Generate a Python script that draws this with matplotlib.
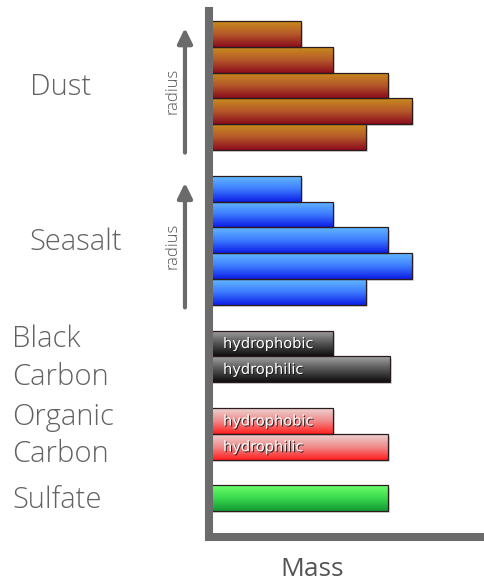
import numpy as np
import matplotlib.pyplot as plt
import matplotlib.patheffects as pe
from matplotlib.colors import LinearSegmentedColormap

# aerosol species, top to bottom; bins inside a group run from small to large
species = ["Dust", "Seasalt", "Black\nCarbon", "Organic\nCarbon", "Sulfate"]
dust_mass = [92, 124, 179, 203, 157]
seasalt_mass = [92, 124, 179, 203, 157]
black_carbon_mass = [124, 181]
organic_carbon_mass = [124, 179]
sulfate_mass = [179]
carbon_kinds = ["hydrophobic", "hydrophilic"]

groups = [dust_mass, seasalt_mass, black_carbon_mass, organic_carbon_mass, sulfate_mass]
gradients = [
    ["#c98c1c", "#b5582a", "#8c0d1c"],
    ["#63b8ff", "#3d7cff", "#0d1ee6"],
    ["#a3a3a3", "#555555", "#0e0e0e"],
    ["#ecd2d2", "#f08a8a", "#ff1f1f"],
    ["#6cff6c", "#3ad94e", "#139a34"],
]
label_x = [-0.648, -0.652, -0.714, -0.714, -0.714]
TEXT = "#626262"
AXIS = "#6b6b6b"
FONT = ["Open Sans", "DejaVu Sans"]

fig = plt.figure(figsize=(4.85, 5.84), dpi=100)
ax = fig.add_axes([0.4309, 0.0813, 0.5691, 0.8999])

# one empty slot between species groups
positions = []
start = 0
for vals in groups:
    positions.append(start + np.arange(len(vals)))
    start += len(vals) + 1


def gradient_barh(ax, y, widths, colors, height=1.0):
    cmap = LinearSegmentedColormap.from_list("g", colors)
    img = cmap(np.linspace(0, 1, 64))[:, None, :]
    bars = ax.barh(y, widths, height=height, left=0, color=colors[-1], linewidth=0, zorder=1)
    for bar in bars:
        bar.set_path_effects([pe.SimplePatchShadow(offset=(1.5, -1.5), shadow_rgbFace="#999999", alpha=0.35),
                              pe.Normal()])
        x0, y0 = bar.get_x(), bar.get_y()
        w, h = bar.get_width(), bar.get_height()
        im = ax.imshow(img, extent=(x0, x0 + w, y0 + h, y0), origin="upper", aspect="auto",
                       interpolation="bilinear", zorder=1.2)
        im.set_clip_path(bar)
    ax.barh(y, widths, height=height, left=0, fill=False, edgecolor="#2a1c1c", linewidth=0.9, zorder=1.5)
    return bars


for vals, ys, cols in zip(groups, positions, gradients):
    gradient_barh(ax, ys, vals, cols)

# hydrophobic / hydrophilic tags on the carbon bars
shadow = [pe.SimplePatchShadow(offset=(0.8, -0.8), shadow_rgbFace="#1a1a1a", alpha=0.85), pe.Normal()]
for ys in (positions[2], positions[3]):
    for y, kind in zip(ys, carbon_kinds):
        ax.text(14, y, kind, color="white", fontsize=10.5, family="DejaVu Sans",
                ha="left", va="center", zorder=3, path_effects=shadow)

# species names
trans = ax.get_yaxis_transform()
for name, ys, lx in zip(species, positions, label_x):
    ax.text(lx, np.mean(ys) + 0.08, name, transform=trans, ha="left", va="center",
            fontsize=21, color=TEXT, family=FONT, weight="light", linespacing=1.36)

# size-bin arrows for dust and seasalt
for ys in positions[:2]:
    top, bottom = ys[0] - 0.5 + 0.27, ys[-1] + 0.5 + 0.1
    ax.annotate("", xy=(-0.087, top), xytext=(-0.087, bottom), xycoords=trans, textcoords=trans,
                arrowprops=dict(arrowstyle="-|>,head_length=0.45,head_width=0.22", color=AXIS,
                                lw=3, shrinkA=0, shrinkB=0, mutation_scale=20),
                annotation_clip=False)
    ax.text(-0.134, np.mean(ys) + 0.2, "radius", transform=trans, rotation=90,
            ha="center", va="center", fontsize=12, color="#555555", family=FONT, weight="light")

ax.set_xlim(0, 276)
ax.set_ylim(19.48, -0.89)
ax.set_xticks([])
ax.set_yticks([])
for side in ("top", "right"):
    ax.spines[side].set_visible(False)
for side in ("left", "bottom"):
    ax.spines[side].set_color(AXIS)
    ax.spines[side].set_linewidth(5.8)
    ax.spines[side].set_capstyle("projecting")

fig.text(312 / 485, 1 - 570 / 584, "Mass", ha="center", va="center",
         fontsize=19, color="#555555", family=FONT)

fig.savefig("out.png", dpi=100)
